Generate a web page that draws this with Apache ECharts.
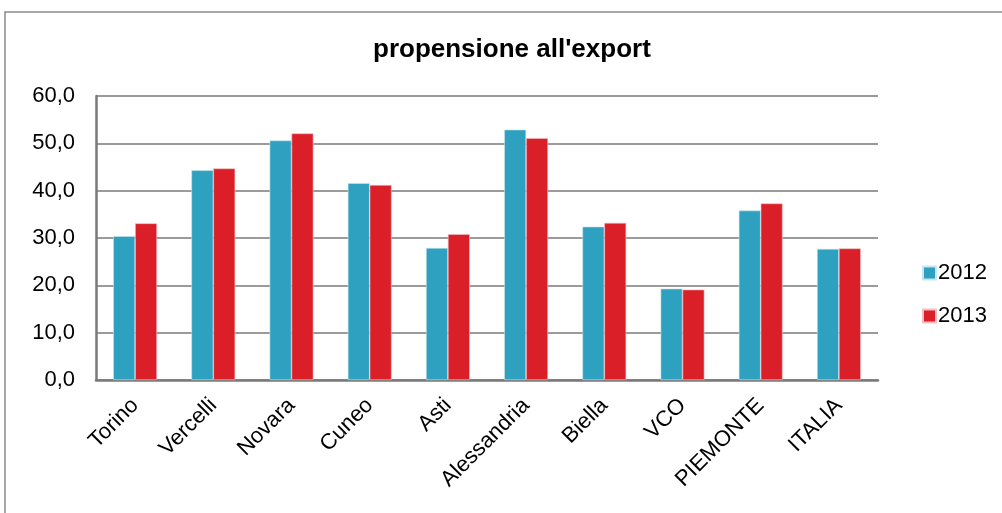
<!DOCTYPE html>
<html>
<head>
<meta charset="utf-8">
<script src="https://cdn.jsdelivr.net/npm/echarts@6/dist/echarts.min.js"></script>
<style>
html,body{margin:0;padding:0;background:#fff;}
#c{width:1002px;height:513px;}
</style>
</head>
<body>
<div id="c"></div>
<script>
const categories = ['Torino','Vercelli','Novara','Cuneo','Asti','Alessandria','Biella','VCO','PIEMONTE','ITALIA'];
const values2012 = [30.4, 44.3, 50.6, 41.6, 27.9, 52.9, 32.4, 19.3, 35.8, 27.7];
const values2013 = [33.1, 44.7, 52.1, 41.2, 30.8, 51.1, 33.2, 19.1, 37.3, 27.8];
const seriesNames = ['2012', '2013'];
const yTicks = [0, 10, 20, 30, 40, 50, 60];

const chart = echarts.init(document.getElementById('c'), null, {renderer: 'canvas'});
const font = 'Liberation Sans, Arial, sans-serif';
chart.setOption({
  animation: false,
  backgroundColor: '#ffffff',
  graphic: [{
    type: 'polyline',
    shape: {points: [[5, 520], [5, 12], [1010, 12]]},
    style: {stroke: '#8a8a8a', lineWidth: 1.5, fill: null},
    silent: true
  }],
  title: {
    text: "propensione all'export",
    left: 373, top: 37, padding: 0,
    textStyle: {fontFamily: font, fontSize: 26, fontWeight: 'bold', color: '#000'}
  },
  legend: {
    orient: 'vertical',
    left: 917, top: 257,
    itemWidth: 13, itemHeight: 13, itemGap: 21,
    icon: 'rect',
    textStyle: {fontFamily: font, fontSize: 22, color: '#000', padding: [0, 0, 0, -3]},
    data: seriesNames
  },
  grid: {left: 96, right: 124, top: 96, bottom: 133, containLabel: false},
  xAxis: {
    type: 'category',
    data: categories,
    axisLine: {lineStyle: {color: '#7a7a7a', width: 2.5}},
    axisTick: {show: false},
    axisLabel: {rotate: 45, fontFamily: font, fontSize: 22, color: '#000', margin: 22, interval: 0}
  },
  yAxis: {
    type: 'value',
    min: yTicks[0], max: yTicks[yTicks.length - 1], interval: 10,
    axisLine: {show: true, lineStyle: {color: '#7a7a7a', width: 2.5}},
    axisTick: {show: false},
    splitLine: {lineStyle: {color: '#7a7a7a', width: 1.5}},
    axisLabel: {
      fontFamily: font, fontSize: 22, color: '#000', margin: 21,
      formatter: v => v.toFixed(1).replace('.', ',')
    }
  },
  series: [
    {name: seriesNames[0], type: 'bar', data: values2012, barGap: '0%', barCategoryGap: '44%',
     itemStyle: {color: '#2DA1BF', borderColor: '#c9e6ef', borderWidth: 0.6}},
    {name: seriesNames[1], type: 'bar', data: values2013, barGap: '0%', barCategoryGap: '44%',
     itemStyle: {color: '#DB1F28', borderColor: '#f2c0c3', borderWidth: 0.6}}
  ]
});
</script>
</body>
</html>
